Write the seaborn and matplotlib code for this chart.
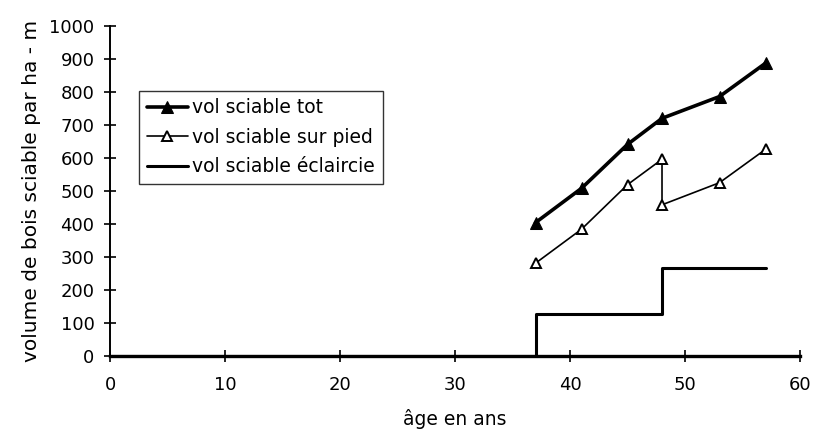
import matplotlib
matplotlib.use("Agg")
import matplotlib.pyplot as plt
import seaborn as sns

# ===============================
# Data
# ===============================
age_tot = [37, 41, 45, 48, 53, 57]
vol_tot = [404, 508, 641, 720, 786, 887]

age_pied = [37, 41, 45, 48, 48, 53, 57]
vol_pied = [281, 384, 519, 596, 458, 525, 626]

age_ecl = [0, 37, 48, 57]
vol_ecl = [0, 127, 266, 266]

x_ticks = list(range(0, 61, 10))
y_ticks = list(range(0, 1001, 100))

# ===============================
# Plot
# ===============================
sns.set_style("ticks")
plt.rcParams["font.family"] = ["DejaVu Sans"]
plt.rcParams["text.color"] = "black"
plt.rcParams["axes.labelcolor"] = "black"
plt.rcParams["xtick.color"] = "black"
plt.rcParams["ytick.color"] = "black"

fig = plt.figure(figsize=(8.18, 4.32), dpi=100)
ax = fig.add_axes([0.1345, 0.176, 0.8435, 0.764])

sns.lineplot(x=age_tot, y=vol_tot, ax=ax, color="black", lw=2.6,
             marker="^", markersize=9, markerfacecolor="black",
             markeredgecolor="black", sort=False, estimator=None,
             label="vol sciable tot")
sns.lineplot(x=age_pied, y=vol_pied, ax=ax, color="black", lw=1.2,
             marker="^", markersize=7.5, markerfacecolor="white",
             markeredgecolor="black", markeredgewidth=1.4,
             sort=False, estimator=None, label="vol sciable sur pied")
sns.lineplot(x=age_ecl, y=vol_ecl, ax=ax, color="black", lw=2.2,
             drawstyle="steps-post", sort=False, estimator=None,
             label="vol sciable éclaircie")

ax.set_xlim(0, 60)
ax.set_ylim(0, 1000)
ax.set_xticks(x_ticks)
ax.set_yticks(y_ticks)
ax.tick_params(direction="inout", length=8.5, width=1.2, labelsize=13, color="black")
ax.tick_params(axis="x", pad=10)
ax.tick_params(axis="y", pad=7)
for side in ["top", "right"]:
    ax.spines[side].set_visible(False)
for side in ["left", "bottom"]:
    ax.spines[side].set_linewidth(1.4)
    ax.spines[side].set_color("black")
ax.spines["bottom"].set_linewidth(2.4)

ax.set_xlabel("âge en ans", fontsize=13.5, labelpad=11)
ax.set_ylabel("volume de bois sciable par ha - m", fontsize=14.5, labelpad=6)

leg = ax.legend(loc="upper left", bbox_to_anchor=(0.042, 0.803), fontsize=13.5,
                frameon=True, fancybox=False, handlelength=2.2,
                handletextpad=0.25, borderpad=0.4, labelspacing=0.55,
                borderaxespad=0)
leg.get_frame().set_edgecolor("black")
leg.get_frame().set_linewidth(1.0)

fig.savefig("out.png", dpi=100)
